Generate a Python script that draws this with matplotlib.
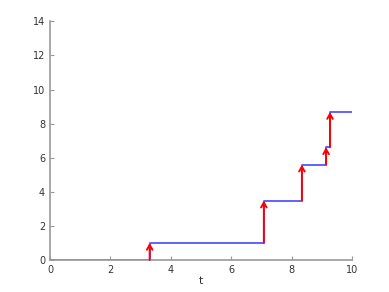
import matplotlib
matplotlib.use("Agg")
import matplotlib.pyplot as plt

jump_t = [3.30, 7.08, 8.34, 9.14, 9.27]
levels = [0, 1.0, 3.48, 5.59, 6.61, 8.68]
t_end = 10

fig = plt.figure(figsize=(3.89, 2.92), dpi=100)
ax = fig.add_axes([0.1285, 0.1096, 0.7765, 0.8174])

ts = [0] + jump_t + [t_end]
ax.step(ts, levels + [levels[-1]], where='post', color='#5555ff', lw=1.3)

for i, t in enumerate(jump_t):
    ax.annotate('', xy=(t, levels[i + 1]), xytext=(t, levels[i]),
                arrowprops=dict(arrowstyle='->,head_length=0.35,head_width=0.2',
                                color='red', lw=1.4, shrinkA=0, shrinkB=0))

ax.set_xlim(0, 10)
ax.set_ylim(0, 14)
ax.set_xticks(range(0, 11, 2))
ax.set_yticks(range(0, 15, 2))
ax.set_xlabel('t', fontsize=8, color='#333333', labelpad=1)
for s in ['top', 'right']:
    ax.spines[s].set_visible(False)
for s in ['left', 'bottom']:
    ax.spines[s].set_color('#999999')
    ax.spines[s].set_linewidth(1.2)
ax.tick_params(direction='in', length=3, colors='#999999', labelsize=7,
               labelcolor='#333333')

fig.savefig('out.png', dpi=100)
